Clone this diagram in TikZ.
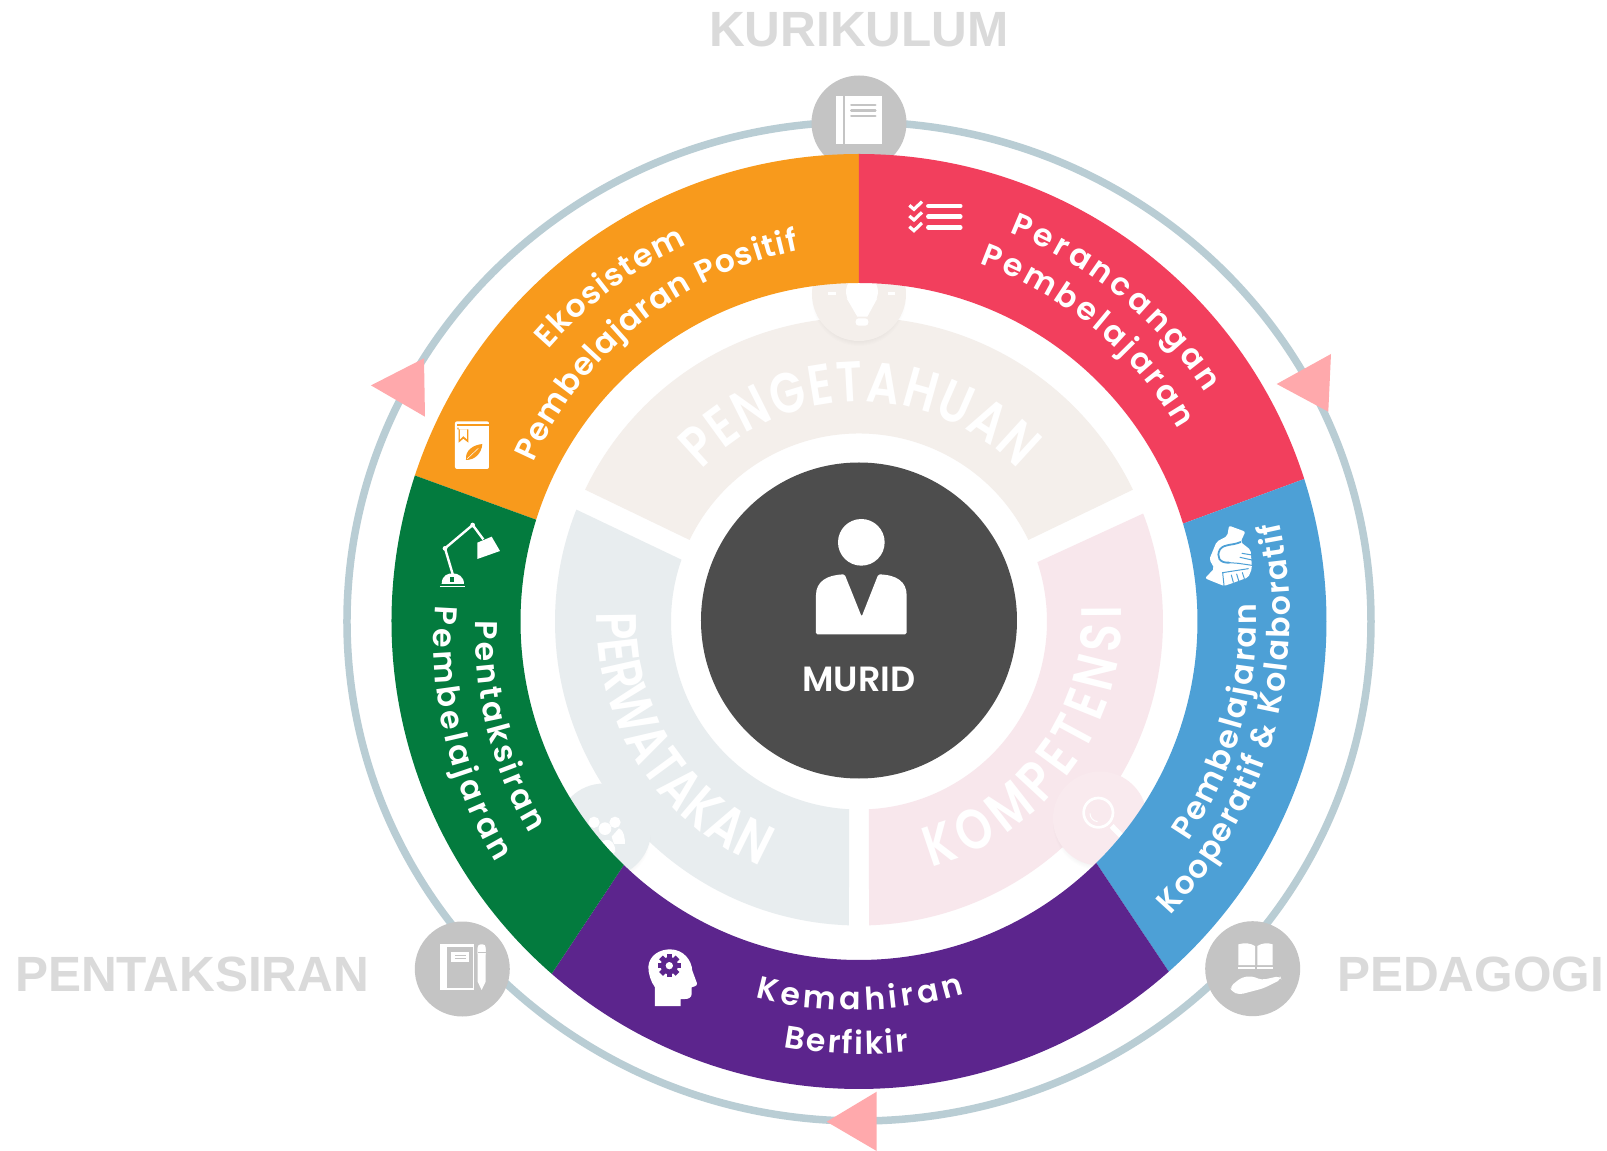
\documentclass[tikz,border=0pt]{standalone}
\usepackage{fontspec}
\usetikzlibrary{decorations.text}
\setmainfont{Liberation Sans}
\newfontfamily\labfont{Poppins SemiBold}
\newfontfamily\palefont[FakeStretch=0.8]{Poppins SemiBold}
\newfontfamily\muridfont{Poppins SemiBold}
\definecolor{cOrange}{HTML}{F89A1C}
\definecolor{cRed}{HTML}{F23F5D}
\definecolor{cBlue}{HTML}{4DA0D6}
\definecolor{cPurple}{HTML}{5C258D}
\definecolor{cGreen}{HTML}{037B3E}
\definecolor{cDark}{HTML}{4D4D4D}
\definecolor{cGrey}{HTML}{C4C4C4}
\definecolor{cTri}{HTML}{FFA9AC}
\definecolor{cTrack}{HTML}{B9CDD4}
\definecolor{cPaleA}{HTML}{F4EFEB}
\definecolor{cPaleB}{HTML}{F8E7EC}
\definecolor{cPaleC}{HTML}{E8EDEF}
\definecolor{cPaleD}{HTML}{F9EAEE}
\definecolor{cTitle}{HTML}{DADADA}
\tikzset{
  zoomat/.style 2 args={x=.33333pt,y=-.33333pt,shift={({(#1-859)*1pt},{(621.5-#2)*1pt})}},
  pxmap/.style={x=1pt,y=-1pt,shift={(-859pt,621.5pt)}},
  title/.style={font=\fontsize{49.5}{52}\selectfont\bfseries,text=cTitle,inner sep=0pt},
  badge/.style={circle,fill=cGrey,minimum size=95pt,inner sep=0pt},
  pale/.style={circle,minimum size=94pt,inner sep=0pt},
  tri/.style={fill=cTri},
}
\newcommand{\annsec}[7]{\fill[#1] (#4:#2pt) arc[start angle=#4,end angle=#5,radius=#2pt] -- (#6:#3pt) arc[start angle=#6,end angle=#7,radius=#3pt] -- cycle;}
\newcommand{\curvetext}[6]{\path[decorate,decoration={text along path,text align={fit to path},text={|#1\color{white}|#6}}] plot[domain=0:1,samples=60,variable=\t] ({(#3+(#5-#3)*\t)*cos(#2+(#4-#2)*\t)},{(#3+(#5-#3)*\t)*sin(#2+(#4-#2)*\t)});}
\newcommand{\softshadow}[2]{\foreach \k in {0,...,7}{\fill[black,opacity=.006] (#1,#2-5) circle ({40+\k});}}
\newcommand{\labA}{\labfont\fontsize{31.5}{33}\selectfont}
\newcommand{\paleA}{\palefont\fontsize{57}{59}\selectfont}
\begin{document}
\begin{tikzpicture}[x=1pt,y=1pt]
\useasboundingbox (-859,-529.5) rectangle (748,621.5);
\fill[white] (-859,-529.5) rectangle (748,621.5);

% outer track
\draw[cTrack,line width=7.5pt] (0,0) ellipse [x radius=512pt,y radius=499.5pt];

% pale inner sectors
\annsec{cPaleA}{304}{188}{154.3}{25.7}{25.7}{154.3}
\annsec{cPaleB}{304}{188}{20.8}{-88.1}{-87}{18.4}
\annsec{cPaleC}{304}{188}{158.4}{268.1}{267}{160.8}

% pale badges behind the ring
\softshadow{0}{327.5}
\softshadow{-255}{-209}
\softshadow{241}{-197}
\node[pale,fill=cPaleA] (bulbbadge) at (0,327.5) {};
\node[pale,fill=cPaleC] (peoplebadge) at (-255,-209) {};
\node[pale,fill=cPaleD] (lensbadge) at (241,-197) {};

% bulb icon
\begin{scope}[zoomat={400}{60}]
  \fill[white] (1386,695) circle (48);
  \fill[white] (1340,715) -- (1372,770) -- (1402,770) -- (1432,715) -- cycle;
  \fill[white,rounded corners=3pt] (1367,775) rectangle (1405,797);
  \fill[white] (1285,696) rectangle (1308,704);
  \fill[white] (1463,696) rectangle (1485,704);
\end{scope}
% people icon
\begin{scope}[zoomat={540}{740}]
  \fill[white] (162,247) circle (17);
  \fill[white] (225,247) circle (17);
  \fill[white] (195,266) circle (19);
  \fill[white] (237,265) .. controls (252,270) and (255,295) .. (255,312) -- (222,312) -- (215,290) -- cycle;
  \fill[white] (150,270) .. controls (165,280) and (172,300) .. (172,312) -- (130,312) -- cycle;
  \fill[white] (170,340) .. controls (170,295) and (225,280) .. (226,335) -- (200,360) -- cycle;
\end{scope}
% magnifier icon
\begin{scope}[zoomat={1030}{740}]
  \draw[white,line width=2.7pt] (205,218) circle (44);
  \draw[white,line width=5.5pt] (245,258) -- (278,292);
  \draw[white,line width=1pt] (180,220) arc[start angle=180,end angle=95,radius=25];
\end{scope}

% grey top badge (behind ring)
\node[badge] (topbadge) at (0,498.5) {};

% coloured ring
\annsec{cOrange}{467.5}{338.5}{161.8}{90}{90}{162.5}
\annsec{cRed}{467.5}{338.5}{90}{17.75}{16.8}{90}
\annsec{cBlue}{467.5}{338.5}{17.75}{-48.5}{-45.5}{16.8}
\annsec{cPurple}{467.5}{338.5}{-48.5}{-131.1}{-134}{-45.5}
\annsec{cGreen}{467.5}{338.5}{228.9}{161.8}{162.5}{226}

% other badges
\node[badge] (leftbadge) at (-396.7,-347.5) {};
\node[badge] (rightbadge) at (393.7,-347.2) {};

% centre
\node[circle,fill=cDark,minimum size=316pt,inner sep=0pt] (centre) at (0,1) {};
\begin{scope}[zoomat={680}{440}]
  \fill[white] (544,307) circle (70);
  \fill[white,rounded corners=1.5pt] (408,583) -- (408,470) .. controls (408,425) and (440,405) .. (494,403) -- (545,530) -- (595,403) .. controls (650,405) and (680,425) .. (680,470) -- (680,583) -- cycle;
\end{scope}
\node[inner sep=0pt,text=white,font=\muridfont\fontsize{35}{38}\selectfont,anchor=base] (muridlabel) at (0,-70) {MURID};

% top book icon
\begin{scope}[zoomat={400}{60}]
  \fill[white] (1308,108) rectangle (1328,252);
  \fill[white] (1336,108) rectangle (1446,252);
  \foreach \yy in {135,152,168}{\draw[cGrey,line width=2.6pt,line cap=round] (1354,\yy) -- (1426,\yy);}
\end{scope}

% checklist icon
\begin{scope}[zoomat={840}{60}]
  \foreach \yy in {438,470,502}{
    \draw[white,line width=4.5pt,line cap=round] (265,\yy) -- (361,\yy);
    \draw[white,line width=3.2pt] (208,\yy-2) -- (222,\yy+10) -- (246,\yy-13);
  }
\end{scope}

% leaf book icon
\begin{scope}[zoomat={400}{60}]
  \fill[white,rounded corners=2pt] (165,1084) rectangle (267,1227);
  \fill[cOrange] (172,1092) rectangle (267,1097);
  \fill[cOrange] (172,1103) -- (176,1103) -- (176,1148) -- (190,1136) -- (205,1148) -- (205,1108) -- (172,1108) -- cycle;
  \fill[white] (180,1108) -- (180,1138) -- (190,1128) -- (201,1138) -- (201,1108) -- cycle;
  \fill[cOrange] (198,1200) .. controls (195,1170) and (220,1155) .. (247,1152) .. controls (245,1180) and (225,1200) .. (198,1200) -- cycle;
  \draw[white,line width=.5pt] (202,1196) -- (235,1165);
\end{scope}

% lamp icon
\begin{scope}[zoomat={390}{500}]
  \draw[white,line width=1.5pt] (150,260) -- (225,260);
  \fill[white] (155,252) .. controls (155,225) and (175,220) .. (188,220) .. controls (205,220) and (222,230) .. (222,252) -- cycle;
  \fill[cGreen] (180,232) rectangle (193,245);
  \draw[white,line width=2.4pt,line join=round] (188,222) -- (165,145) -- (248,75) -- (280,118);
  \fill[white] (262,128) -- (305,110) -- (330,153) -- (262,177) -- cycle;
  \fill[white] (165,145) circle (7);
  \fill[white] (248,75) circle (7);
\end{scope}

% handshake icon
\begin{scope}[zoomat={1030}{500}]
  \fill[white,rounded corners=2pt] (597,77) -- (646,95) -- (632,126) -- (662,150) -- (666,205) -- (655,232) -- (600,252) -- (582,258) -- (525,235) -- (553,205) -- (538,178) -- (560,125) -- (592,108) -- cycle;
  \draw[cBlue,line width=1.8pt,line cap=round] (598,188) .. controls (568,190) and (558,170) .. (570,148) .. controls (585,130) and (605,138) .. (632,126);
  \draw[cBlue,line width=1pt,line cap=round] (666,165) -- (636,160) (666,180) -- (630,172) (666,196) -- (625,190);
  \draw[cBlue,line width=1pt,line cap=round] (598,188) -- (625,190);
  \draw[cBlue,line width=1pt,line cap=round] (604,225) -- (610,247) (620,222) -- (626,242) (637,218) -- (643,236);
  \draw[cBlue,line width=1pt,line cap=round] (582,256) -- (578,218) -- (655,206);
\end{scope}

% head icon
\begin{scope}[zoomat={620}{930}]
  \fill[white] (105,228) -- (105,172) .. controls (92,155) and (85,130) .. (85,110) .. controls (88,75) and (120,58) .. (150,58) .. controls (190,58) and (215,90) .. (217,122) -- (231,160) .. controls (232,168) and (222,170) .. (215,172) -- (215,192) .. controls (215,203) and (205,207) .. (195,207) -- (182,207) -- (182,228) -- cycle;
  \fill[cPurple] (148,107) circle (26);
  \foreach \aa in {0,45,...,315}{\fill[cPurple,shift={(148,107)},rotate=\aa] (-8,-23) rectangle (8,-35);}
  \fill[white] (148,107) circle (11);
\end{scope}

% notebook icon
\begin{scope}[zoomat={390}{890}]
  \fill[white] (150,163) rectangle (253,300);
  \fill[cGrey] (172,170) rectangle (248,295);
  \fill[white] (183,186) rectangle (238,217);
  \draw[cGrey,line width=.8pt] (195,197) -- (227,197) (195,206) -- (227,206);
  \fill[white,rounded corners=3pt] (263,163) rectangle (287,200);
  \fill[white] (263,175) rectangle (287,275) -- (275,300) -- (263,275) -- cycle;
  \draw[cGrey,line width=.8pt] (263,187) -- (287,187);
\end{scope}

% book in hand icon
\begin{scope}[zoomat={1180}{890}]
  \fill[white] (175,163) .. controls (195,157) and (212,160) .. (225,168) -- (225,225) -- (175,225) -- cycle;
  \fill[white] (232,168) .. controls (245,160) and (262,157) .. (278,163) -- (278,225) -- (232,225) -- cycle;
  \fill[white] (175,231) rectangle (225,238);
  \fill[white] (232,231) rectangle (278,238);
  \fill[white,rounded corners=4pt] (150,290) -- (185,262) -- (215,258) -- (245,270) -- (300,258) -- (304,268) -- (250,295) -- (178,314) -- (155,305) -- cycle;
\end{scope}

% curved ring labels
\curvetext{\labA}{138.8}{413}{114.6}{414}{Ekosistem}
\curvetext{\labA}{154}{362}{99.2}{376}{Pembelajaran Positif}
\curvetext{\labA}{68.8}{417}{33.4}{415}{Perancangan}
\curvetext{\labA}{71.4}{377.5}{31}{373}{Pembelajaran}
\curvetext{\labA}{-33.8}{396}{2.6}{398}{Pembelajaran}
\curvetext{\labA}{-43.4}{428}{13.4}{432}{Kooperatif {\&} Kolaboratif}
\curvetext{\labA}{254.6}{390}{285.8}{387}{Kemahiran}
\curvetext{\labA}{260}{432}{276.6}{433}{Berfikir}
\curvetext{\labA}{179.8}{383}{212.8}{392}{Pentaksiran}
\curvetext{\labA}{177.8}{424}{213.6}{436}{Pembelajaran}

% pale curved words
\curvetext{\paleA}{136}{219}{43.5}{220}{PENGETAHUAN}
\curvetext{\paleA}{178}{262}{248.1}{263.5}{PERWATAKAN}
\curvetext{\paleA}{-73.5}{256}{3.5}{263}{KOMPETENSI}

% outside titles
\begin{scope}[pxmap]
  \node[title,anchor=base] (kurikulum) at (859,47) {KURIKULUM};
  \node[title,anchor=base west] (pentaksiran) at (15,991) {PENTAKSIRAN};
  \node[title,anchor=base west] (pedagogi) at (1337,991) {PEDAGOGI};
  % arrow triangles
  \fill[tri] (1276.7,384) -- (1331,354) -- (1328.3,411.7) -- cycle;
  \fill[tri] (371,385.4) -- (424,358.3) -- (425,416.7) -- cycle;
  \fill[tri] (826.7,1121.7) -- (876.7,1091.7) -- (876.7,1151) -- cycle;
\end{scope}
\end{tikzpicture}
\end{document}
